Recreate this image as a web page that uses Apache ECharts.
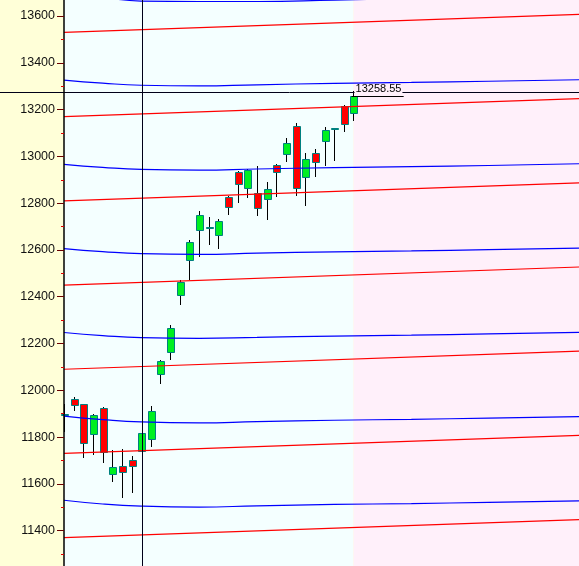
<!DOCTYPE html>
<html>
<head>
<meta charset="utf-8">
<script src="https://cdn.jsdelivr.net/npm/echarts@6/dist/echarts.min.js"></script>
<style>
  html, body { margin: 0; padding: 0; background: #ffffd8; }
  #chart { width: 579px; height: 566px; }
</style>
</head>
<body>
<div id="chart"></div>
<script>
// [open, close, low, high], one per session
const candles = [
  [11900, 11900, 11823, 11940],
  [11963, 11936, 11912, 11973],
  [11941, 11774, 11712, 11942],
  [11812, 11895, 11725, 11899],
  [11923, 11736, 11688, 11929],
  [11641, 11671, 11607, 11745],
  [11678, 11650, 11538, 11748],
  [11701, 11677, 11560, 11721],
  [11739, 11816, 11737, 11818],
  [11791, 11910, 11756, 11933],
  [12069, 12124, 12028, 12131],
  [12163, 12266, 12130, 12279],
  [12406, 12463, 12366, 12470],
  [12558, 12634, 12472, 12643],
  [12684, 12749, 12571, 12767],
  [12699, 12699, 12621, 12741],
  [12665, 12724, 12605, 12732],
  [12825, 12785, 12749, 12831],
  [12932, 12882, 12799, 12939],
  [12863, 12942, 12822, 12945],
  [12842, 12778, 12746, 12959],
  [12817, 12861, 12728, 12891],
  [12962, 12932, 12825, 12969],
  [13009, 13057, 12977, 13079],
  [13129, 12864, 12832, 13143],
  [12911, 12988, 12789, 13016],
  [13013, 12976, 12913, 13030],
  [13067, 13112, 12960, 13126],
  [13120, 13120, 12982, 13121],
  [13215, 13140, 13106, 13218],
  [13184, 13258.55, 13153, 13279]
];

// blue curves, sampled at these session positions
const blueX = [0, 4, 8, 14, 20, 28, 36, 44, 54];
const blue0 = [13692, 13678, 13664, 13662, 13662, 13668, 13675, 13681, 13688];
const blue1 = [13326, 13313, 13304, 13301, 13306, 13312, 13316, 13321, 13328];
const blue2 = [12966, 12953, 12944, 12941, 12946, 12952, 12956, 12961, 12969];
const blue3 = [12606, 12593, 12584, 12581, 12586, 12592, 12596, 12601, 12608];
const blue4 = [12247, 12234, 12225, 12222, 12226, 12232, 12236, 12241, 12248];
const blue5 = [11890, 11875, 11865, 11861, 11866, 11872, 11876, 11881, 11888];
const blue6 = [11530, 11514, 11505, 11501, 11506, 11512, 11516, 11521, 11528];

// red straight lines, start and end
const redX = [0, 54];
const red1 = [13530, 13608];
const red2 = [13170, 13248];
const red3 = [12810, 12888];
const red4 = [12450, 12528];
const red5 = [12090, 12168];
const red6 = [11730, 11808];
const red7 = [11370, 11448];

const yLabels = [11400, 11600, 11800, 12000, 12200, 12400, 12600, 12800, 13000, 13200, 13400, 13600];
const yMinor = [11300, 11500, 11700, 11900, 12100, 12300, 12500, 12700, 12900, 13100, 13300, 13500];

const lastClose = 13258.55;
const cursorX = 8.1;
const cursorY = 13275;
const futureStart = 30;

const FONT = "'Liberation Sans', Arial, sans-serif";
const Y_MIN = 11249;
const Y_MAX = 13668.4;
const X_MIN = -6.63;
const X_MAX = 53.37;

const chart = echarts.init(document.getElementById('chart'));

function pts(xs, ys) {
  return xs.map((x, i) => [x, ys[i]]);
}

function renderCandle(params, api) {
  const x = api.value(0);
  const o = api.coord([x, api.value(1)]);
  const c = api.coord([x, api.value(2)]);
  const lo = api.coord([x, api.value(3)]);
  const hi = api.coord([x, api.value(4)]);
  const px = Math.round(o[0]);
  const top = Math.round(Math.min(o[1], c[1])) + 0.5;
  const bot = Math.round(Math.max(o[1], c[1])) + 0.5;
  const up = api.value(2) >= api.value(1);
  return {
    type: 'group',
    children: [
      {
        type: 'line',
        shape: { x1: px + 0.5, y1: Math.round(hi[1]), x2: px + 0.5, y2: Math.round(lo[1]) },
        style: { stroke: '#000', lineWidth: 1 }
      },
      {
        type: 'rect',
        shape: { x: px - 2.5, y: top, width: 7, height: Math.max(bot - top, 1) },
        style: { fill: up ? '#00f020' : '#ff0000', stroke: '#008080', lineWidth: 1 }
      }
    ]
  };
}

function curve(data, color, smooth) {
  return {
    type: 'line',
    data: data,
    smooth: smooth,
    symbol: 'none',
    silent: true,
    z: 3,
    lineStyle: { color: color, width: 1.2 }
  };
}

const yBase = {
  type: 'value',
  min: Y_MIN,
  max: Y_MAX,
  position: 'left',
  offset: -64,
  z: 6,
  splitLine: { show: false }
};

chart.setOption({
  animation: false,
  backgroundColor: '#ffffd8',
  grid: { left: 0, right: 0, top: 0, bottom: 0, containLabel: false, outerBoundsMode: 'none' },
  xAxis: { type: 'value', min: X_MIN, max: X_MAX, show: false },
  yAxis: [
    Object.assign({}, yBase, {
      axisLine: { show: true, lineStyle: { color: '#000', width: 1.5 } },
      axisTick: { show: true, customValues: yLabels, length: 7, lineStyle: { color: '#6a0000' } },
      axisLabel: {
        customValues: yLabels,
        formatter: (v) => String(v),
        margin: 9,
        color: '#111',
        fontSize: 12.5,
        fontFamily: FONT
      }
    }),
    Object.assign({}, yBase, {
      axisLine: { show: false },
      axisTick: { show: true, customValues: yMinor, length: 3, lineStyle: { color: '#e00000' } },
      axisLabel: { show: false }
    })
  ],
  series: [
    {
      type: 'custom',
      renderItem: renderCandle,
      data: candles.map((c, i) => [i].concat(c)),
      encode: { x: 0, y: [1, 2, 3, 4] },
      clip: false,
      z: 2,
      markArea: {
        silent: true,
        data: [
          [{ xAxis: 0, itemStyle: { color: '#f4ffff' } }, { xAxis: futureStart }],
          [{ xAxis: futureStart, itemStyle: { color: '#fff0fa' } }, { xAxis: X_MAX }]
        ]
      }
    },
    curve(pts(redX, red1), '#ff0000', false),
    curve(pts(redX, red2), '#ff0000', false),
    curve(pts(redX, red3), '#ff0000', false),
    curve(pts(redX, red4), '#ff0000', false),
    curve(pts(redX, red5), '#ff0000', false),
    curve(pts(redX, red6), '#ff0000', false),
    curve(pts(redX, red7), '#ff0000', false),
    curve(pts(blueX, blue0), '#0000ff', true),
    curve(pts(blueX, blue1), '#0000ff', true),
    curve(pts(blueX, blue2), '#0000ff', true),
    curve(pts(blueX, blue3), '#0000ff', true),
    curve(pts(blueX, blue4), '#0000ff', true),
    curve(pts(blueX, blue5), '#0000ff', true),
    curve(pts(blueX, blue6), '#0000ff', true),
    {
      type: 'line',
      data: [],
      z: 7,
      markLine: {
        silent: true,
        symbol: 'none',
        animation: false,
        label: { show: false },
        lineStyle: { color: '#000018', width: 1, type: 'solid' },
        data: [{ xAxis: cursorX }, { yAxis: cursorY }]
      }
    },
    {
      type: 'line',
      data: [],
      z: 8,
      markLine: {
        silent: true,
        symbol: 'none',
        animation: false,
        lineStyle: { color: '#000', width: 1, type: 'solid' },
        label: {
          show: true,
          position: 'insideStartTop',
          formatter: String(lastClose),
          color: '#000',
          fontSize: 11,
          fontFamily: FONT,
          distance: [3, 1],
          backgroundColor: '#fff0fa',
          padding: [0, 1, 0, 1]
        },
        data: [[{ coord: [29.8, lastClose] }, { coord: [35.2, lastClose] }]]
      }
    }
  ]
});
</script>
</body>
</html>
